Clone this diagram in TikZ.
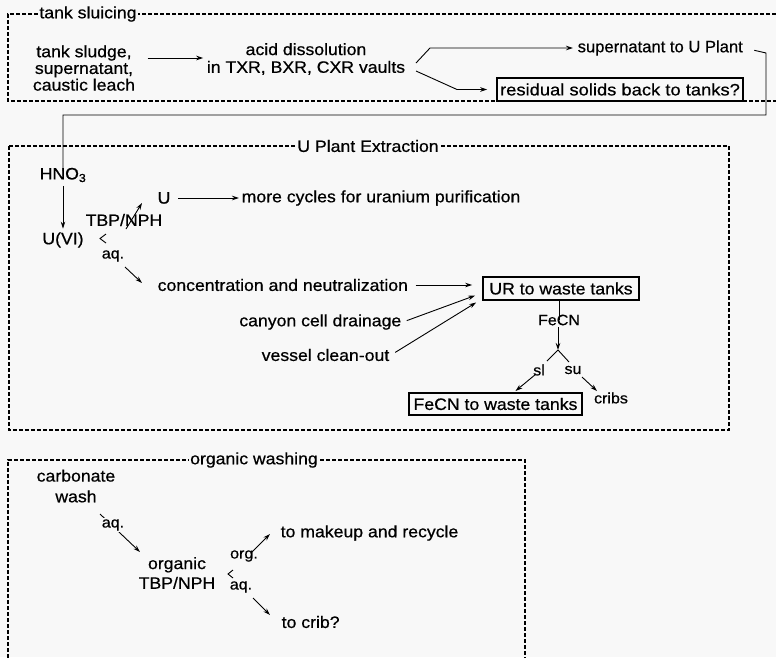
\documentclass[tikz,border=0pt]{standalone}
\usepackage{fontspec}
\setmainfont[FakeStretch=1.07, UprightFeatures={FakeBold=0.6}]{Liberation Sans}
\usetikzlibrary{arrows.meta}
\definecolor{bg}{RGB}{248,248,248}
\begin{document}
\begin{tikzpicture}[x=1pt,y=-1pt,
  every node/.style={inner sep=1.5pt, font=\fontsize{16.5}{16.7}\selectfont},
  small/.style={font=\fontsize{15}{15}\selectfont},
  grp/.style={draw, dash pattern=on 4pt off 2pt, line width=1.3pt},
  grplabel/.style={fill=bg, inner xsep=1pt},
  boxed/.style={draw, line width=1.7pt, inner xsep=3pt, minimum height=23pt},
  arr/.style={-{Stealth[length=7pt,width=4.5pt]}, line width=0.9pt},
  ln/.style={line width=0.9pt},
]
\fill[bg] (0,0) rectangle (776,657);
\useasboundingbox (0,0) rectangle (776,657);

% ---------- tank sluicing
\draw[grp] (776,14) -- (8,14) -- (8,101) -- (776,101);
\node[grplabel] (l1) at (88,14) {tank sluicing};
\node[align=center] (sludge) at (84,68) {tank sludge,\\supernatant,\\caustic leach};
\node[align=center] (acid) at (306,59) {acid dissolution\\[1pt]in TXR, BXR, CXR vaults};
\draw[arr, shorten <=11pt, shorten >=2pt] ([yshift=10pt]sludge.east) -- ([yshift=10pt]sludge.east -| acid.west);
\node[anchor=west] (sup) at (576,48) {\scalebox{0.94}[1]{supernatant to U Plant}};
\node[boxed, minimum width=245pt] (res) at (620,89.5) {\scalebox{1.04}[1]{residual solids back to tanks?}};
\coordinate (f1) at (416,63);
\coordinate (f2) at (416,71);
\draw[arr, shorten >=3pt] (f1) -- (430,48) -- (sup.west);
\draw[arr, shorten >=9pt] (f2) -- (457,89.5) -- (res.west);
\coordinate (c1) at (766,53);
\coordinate (c2) at (766,115);

% ---------- U Plant Extraction
\draw[grp] (9,146) rectangle (729,430);
\node[grplabel] (l2) at (368,146) {U Plant Extraction};
\node (hno) at (63,175) {HNO\textsubscript{3}};
\node (uvi) at (63,240) {U(VI)};
\draw[ln, shorten <=10pt] (sup.east) -- (c1) -- (c2) -| ([yshift=-5pt]hno.north);
\draw[arr, shorten <=2pt, shorten >=2pt] (hno.south) -- (uvi.north);
\node (tbp) at (124,220) {TBP/NPH};
\node (u) at (164,198) {U};
\draw[arr] ([shift={(2,9)}]tbp.center) -- ([shift={(-22,5)}]u.center);
\node[anchor=west] (more) at (240,198) {more cycles for uranium purification};
\draw[arr, shorten <=6pt, shorten >=1pt] (u.east) -- (more.west);
\draw[ln] (106,234) -- (100,238.5) -- (106,243);
\node[small] (aq1) at (113,256) {aq.};
\node[anchor=west] (conc) at (156,285) {concentration and neutralization};
\draw[arr] ([shift={(12,11)}]aq1.center) -- ([shift={(-14,-2)}]conc.west);
\node[boxed, minimum width=156pt] (ur) at (561,288.5) {UR to waste tanks};
\draw[arr, shorten <=6pt, shorten >=10pt] (conc.east) -- (conc.east -| ur.west);
\node[anchor=east] (canyon) at (403,322) {canyon cell drainage};
\node[anchor=east] (vessel) at (391,355) {vessel clean-out};
\draw[arr, shorten <=4pt] (canyon.east) -- ([shift={(-7,7)}]ur.west);
\draw[arr, shorten <=5pt] (vessel.east) -- ([shift={(-6,14)}]ur.west);
\node[small] (fecn) at (559,320) {FeCN};
\coordinate (j) at (558,350);
\draw[ln] (fecn.north |- ur.south) -- (fecn.center);
\draw[arr] ([xshift=-1pt]fecn.south) -- (j);
\draw[ln] (j) -- (547,361);
\draw[ln] (j) -- (569,362);
\node[small] (sl) at (539,370) {sl};
\node[small] (su) at (573,370) {su};
\node[boxed, minimum width=173pt, minimum height=22pt] (fbox) at (495.5,404) {FeCN to waste tanks};
\node[small] (cribs) at (611,398) {cribs};
\draw[arr] ([shift={(-3,4)}]sl.center) -- ([shift={(20,-13)}]fbox.center);
\draw[arr] ([shift={(9,7)}]su.center) -- ([shift={(-14,-7)}]cribs.center);

% ---------- organic washing
\draw[grp] (8,670) -- (8,460) -- (525,460) -- (525,670);
\node[grplabel] (l3) at (254,460) {organic washing};
\node[align=center] (carb) at (76,486) {carbonate\\[4pt]wash};
\node[align=center] (org) at (177,573) {organic\\[3pt]TBP/NPH};
\draw[arr] ([shift={(24,28)}]carb.center) -- ([shift={(-37,-21)}]org.center);
\node[small, fill=bg] (aq3) at (113,525) {aq.};
\draw[ln] (233,570) -- (228,574) -- (233,578);
\node[small] (orgl) at (244,556) {org.};
\node[small] (aql) at (241,587) {aq.};
\node[anchor=west] (make) at (279,533) {to makeup and recycle};
\node[anchor=west] (crib) at (280,622) {to crib?};
\draw[arr] ([shift={(8,-4)}]orgl.center) -- ([shift={(-9,1)}]make.west);
\draw[arr] ([shift={(12,11)}]aql.center) -- ([shift={(-10,-7)}]crib.west);
\end{tikzpicture}
\end{document}
